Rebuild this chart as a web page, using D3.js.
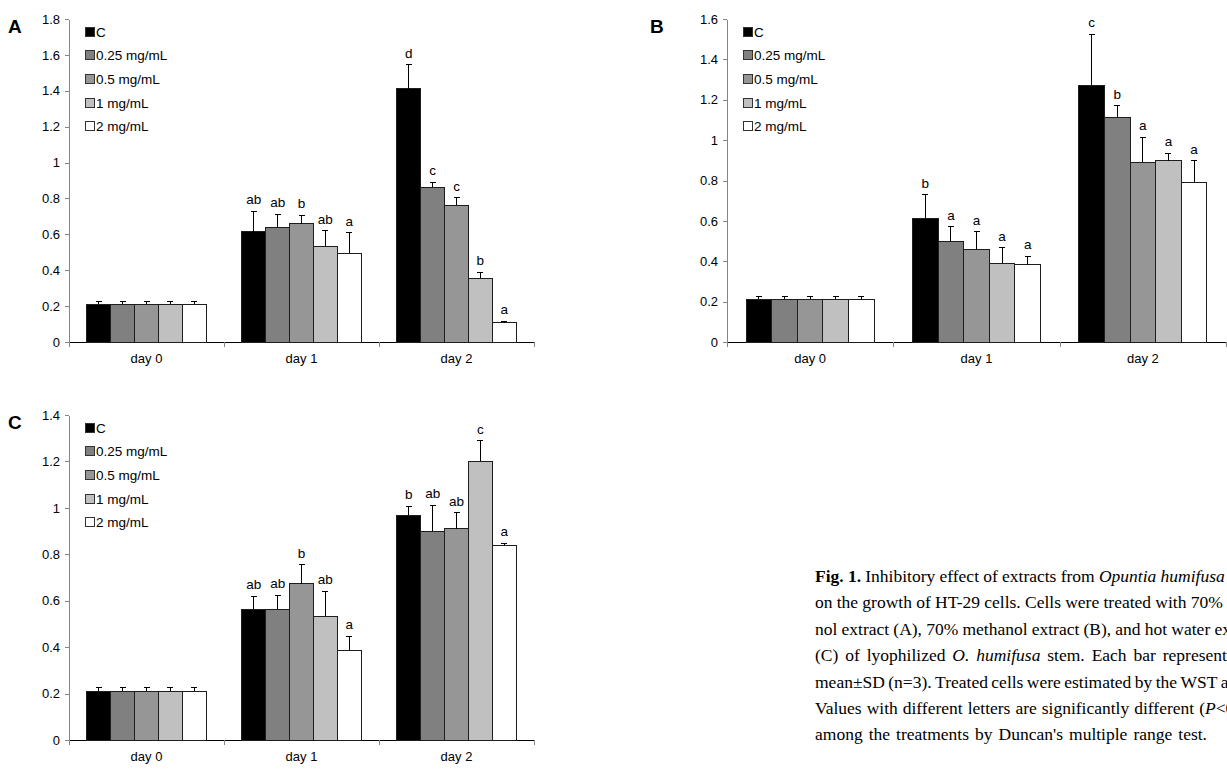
<!DOCTYPE html>
<html>
<head>
<meta charset="utf-8">
<script src="https://cdn.jsdelivr.net/npm/d3@7"></script>
<style>
body { margin: 0; background: #fff; }
svg { display: block; }
</style>
</head>
<body>
<svg id="fig" width="1227" height="769"></svg>
<script>
// categories and series
var days = ['day 0', 'day 1', 'day 2'];
var series = ['C', '0.25 mg/mL', '0.5 mg/mL', '1 mg/mL', '2 mg/mL'];
var seriesColors = ['#000000', '#808080', '#969696', '#c0c0c0', '#ffffff'];

// Panel A: 70% ethanol extract (rows = series, cols = days)
var meanA = [[0.21, 0.615, 1.41], [0.21, 0.636, 0.861], [0.21, 0.659, 0.761], [0.21, 0.531, 0.356], [0.21, 0.494, 0.106]];
var sdA = [[0.013, 0.113, 0.136], [0.013, 0.075, 0.028], [0.013, 0.046, 0.044], [0.013, 0.089, 0.032], [0.013, 0.115, 0.009]];
var lettersA = [['', 'ab', 'd'], ['', 'ab', 'c'], ['', 'b', 'c'], ['', 'ab', 'b'], ['', 'a', 'a']];

// Panel B: 70% methanol extract
var meanB = [[0.211, 0.610, 1.270], [0.211, 0.496, 1.112], [0.211, 0.457, 0.891], [0.211, 0.391, 0.899], [0.211, 0.383, 0.790]];
var sdB = [[0.013, 0.119, 0.254], [0.013, 0.075, 0.059], [0.013, 0.089, 0.123], [0.013, 0.077, 0.035], [0.013, 0.041, 0.109]];
var lettersB = [['', 'b', 'c'], ['', 'a', 'b'], ['', 'a', 'a'], ['', 'a', 'a'], ['', 'a', 'a']];

// Panel C: hot water extract
var meanC = [[0.21, 0.563, 0.969], [0.21, 0.563, 0.900], [0.21, 0.674, 0.909], [0.21, 0.534, 1.200], [0.21, 0.385, 0.837]];
var sdC = [[0.016, 0.056, 0.039], [0.016, 0.061, 0.111], [0.016, 0.081, 0.069], [0.016, 0.107, 0.089], [0.016, 0.062, 0.011]];
var lettersC = [['', 'ab', 'b'], ['', 'ab', 'ab'], ['', 'b', 'ab'], ['', 'ab', 'c'], ['', 'a', 'a']];

var yMaxA = 1.8, yMaxB = 1.6, yMaxC = 1.4;

// caption lines: each segment [text, style] (b = bold, i = italic)
var captionLines = [
    [['Fig. 1.', 'b'], ['Inhibitory effect of extracts from', ''], ['Opuntia humifusa', 'i'], ['stem', '']],
    [['on the growth of HT-29 cells. Cells were treated with 70% etha-', '']],
    [['nol extract (A), 70% methanol extract (B), and hot water extract', '']],
    [['(C) of lyophilized', ''], ['O. humifusa', 'i'], ['stem. Each bar represents the', '']],
    [['mean\u00b1SD (n=3). Treated cells were estimated by the WST assay.', '']],
    [['Values with different letters are significantly different (', ''], ['P', 'i'], ['<0.05)', '']],
    [['among the treatments by Duncan\'s multiple range test.', '']]
];

var FONT = 'Liberation Sans, Arial, sans-serif';
var FS = 13;
var svg = d3.select('#fig');

function drawPanel(p) {
    var g = svg.append('g')
        .attr('font-family', FONT);

    var x = d3.scaleBand().domain(days).range([p.left, p.right]);
    var xs = d3.scaleBand().domain(series).range([0, x.bandwidth()]).paddingOuter(0.75);
    var y = d3.scaleLinear().domain([0, p.yMax]).range([p.bottom, p.top]);

    // y axis
    var yAxis = g.append('g')
        .attr('transform', 'translate(' + p.left + ',0)')
        .call(d3.axisLeft(y)
            .tickValues(d3.range(0, p.yMax + 0.001, 0.2))
            .tickSize(4)
            .tickSizeOuter(0)
            .tickPadding(5)
            .tickFormat(d3.format('.1~f')));
    yAxis.selectAll('path, line').attr('stroke', '#868686').attr('shape-rendering', 'crispEdges');
    yAxis.selectAll('text').attr('font-size', FS).attr('font-family', FONT).attr('fill', '#000');

    // x axis: boundary ticks
    var xb = d3.scaleLinear().domain([0, days.length]).range([p.left, p.right]);
    var xAxis = g.append('g')
        .attr('transform', 'translate(0,' + p.bottom + ')')
        .call(d3.axisBottom(xb)
            .tickValues(d3.range(0, days.length + 1))
            .tickSize(5)
            .tickSizeOuter(0)
            .tickFormat(''));
    xAxis.select('path').attr('stroke', '#000');
    xAxis.selectAll('line').attr('stroke', '#868686');
    xAxis.selectAll('path, line').attr('shape-rendering', 'crispEdges');

    // x axis: category labels
    var xLab = g.append('g')
        .attr('transform', 'translate(0,' + p.bottom + ')')
        .call(d3.axisBottom(x).tickSize(0).tickPadding(12));
    xLab.select('path').remove();
    xLab.selectAll('text').attr('font-size', FS).attr('font-family', FONT).attr('fill', '#000');

    var rows = [];
    series.forEach(function(s, i) {
        days.forEach(function(d, j) {
            rows.push({ day: d, s: s, i: i, mean: p.means[i][j], sd: p.sds[i][j], letter: p.letters[i][j] });
        });
    });

    // bars
    g.append('g')
        .selectAll('rect')
        .data(rows)
        .enter()
        .append('rect')
        .attr('x', function(d) { return x(d.day) + xs(d.s); })
        .attr('y', function(d) { return y(d.mean); })
        .attr('width', xs.bandwidth())
        .attr('height', function(d) { return y(0) - y(d.mean); })
        .attr('fill', function(d) { return seriesColors[d.i]; })
        .attr('stroke', '#1e1e1e')
        .attr('stroke-width', 1)
        .attr('shape-rendering', 'crispEdges');

    // error bars (upper only)
    var err = g.append('g')
        .attr('stroke', '#000')
        .attr('stroke-width', 1)
        .attr('shape-rendering', 'crispEdges')
        .selectAll('g')
        .data(rows)
        .enter()
        .append('g');
    function cx(d) { return x(d.day) + xs(d.s) + xs.bandwidth() / 2; }
    err.append('line')
        .attr('x1', cx).attr('x2', cx)
        .attr('y1', function(d) { return y(d.mean); })
        .attr('y2', function(d) { return y(d.mean + d.sd); });
    err.append('line')
        .attr('x1', function(d) { return cx(d) - 3; })
        .attr('x2', function(d) { return cx(d) + 3; })
        .attr('y1', function(d) { return y(d.mean + d.sd); })
        .attr('y2', function(d) { return y(d.mean + d.sd); });

    // significance letters
    g.append('g')
        .selectAll('text')
        .data(rows.filter(function(d) { return d.letter; }))
        .enter()
        .append('text')
        .attr('x', cx)
        .attr('y', function(d) { return y(d.mean + d.sd) - 7; })
        .attr('text-anchor', 'middle')
        .attr('font-size', FS + 0.5)
        .text(function(d) { return d.letter; });

    // legend
    var leg = g.append('g')
        .selectAll('g')
        .data(series)
        .enter()
        .append('g')
        .attr('transform', function(d, i) {
            return 'translate(' + (p.left + 16) + ',' + (p.top + 12.5 + i * 23.7) + ')';
        });
    leg.append('rect')
        .attr('x', 0).attr('y', -4.5)
        .attr('width', 9).attr('height', 9)
        .attr('fill', function(d, i) { return seriesColors[i]; })
        .attr('stroke', '#333')
        .attr('shape-rendering', 'crispEdges');
    leg.append('text')
        .attr('x', 11)
        .attr('y', 5)
        .attr('font-size', FS + 0.5)
        .text(function(d) { return d; });

    // panel letter
    g.append('text')
        .attr('x', p.labelX)
        .attr('y', p.top + 14)
        .attr('font-size', 19)
        .attr('font-weight', 'bold')
        .text(p.name);
}

drawPanel({ name: 'A', means: meanA, sds: sdA, letters: lettersA, yMax: yMaxA,
    left: 69, right: 534, top: 19, bottom: 342, labelX: 8 });
drawPanel({ name: 'B', means: meanB, sds: sdB, letters: lettersB, yMax: yMaxB,
    left: 727, right: 1226, top: 19, bottom: 342, labelX: 650 });
drawPanel({ name: 'C', means: meanC, sds: sdC, letters: lettersC, yMax: yMaxC,
    left: 69, right: 534, top: 415, bottom: 740, labelX: 8 });

// caption, justified word by word
var capLeft = 815, capRight = 1262, lastRight = 1207, capTop = 582, capLead = 26.4, capSize = 17.5;
var cap = svg.append('g')
    .attr('font-family', 'Liberation Serif, Times New Roman, serif')
    .attr('font-size', capSize)
    .attr('fill', '#000');
var probe = cap.append('text');
function measure(word, style) {
    probe.attr('font-weight', style === 'b' ? 'bold' : 'normal')
        .attr('font-style', style === 'i' ? 'italic' : 'normal')
        .text(word);
    return probe.node().getComputedTextLength();
}
captionLines.forEach(function(segs, li) {
    var words = [];
    segs.forEach(function(sg) {
        sg[0].split(' ').forEach(function(w, k) {
            // glue pieces that touch the previous segment (e.g. "(" + "P")
            var prev = words[words.length - 1];
            var glue = k === 0 && prev && (/[(]$/.test(prev.t) || (prev.s === 'i' && /^</.test(w)));
            words.push({ t: w, s: sg[1], glue: glue });
        });
    });
    words.forEach(function(w) { w.w = measure(w.t, w.s); });
    var gaps = words.filter(function(w, k) { return k > 0 && !w.glue; }).length;
    var total = d3.sum(words, function(w) { return w.w; });
    var last = li === captionLines.length - 1;
    var gap = ((last ? lastRight : capRight) - capLeft - total) / gaps;
    var xPos = capLeft;
    var yPos = capTop + li * capLead;
    words.forEach(function(w, k) {
        if (k > 0 && !w.glue) xPos += gap;
        cap.append('text')
            .attr('x', xPos)
            .attr('y', yPos)
            .attr('font-weight', w.s === 'b' ? 'bold' : 'normal')
            .attr('font-style', w.s === 'i' ? 'italic' : 'normal')
            .text(w.t);
        xPos += w.w;
    });
});
probe.remove();
</script>
</body>
</html>
